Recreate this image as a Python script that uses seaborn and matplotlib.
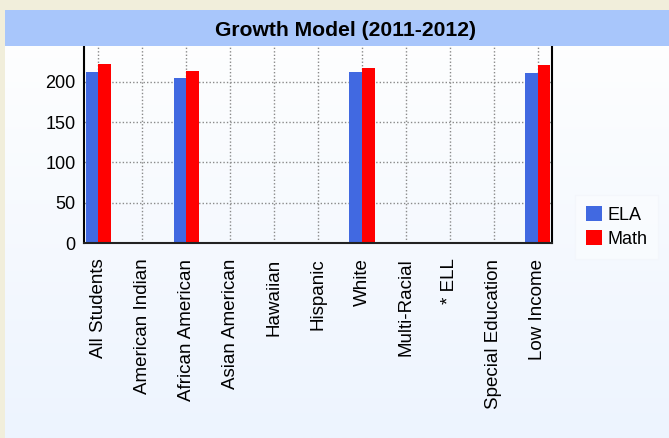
import numpy as np
import pandas as pd
import matplotlib
matplotlib.use("Agg")
import matplotlib.pyplot as plt
import seaborn as sns
from matplotlib.patches import Rectangle

groups = ["All Students", "American Indian", "African American", "Asian American",
          "Hawaiian", "Hispanic", "White", "Multi-Racial", "* ELL",
          "Special Education", "Low Income"]
ela = [212, np.nan, 205, np.nan, np.nan, np.nan, 212, np.nan, np.nan, np.nan, 210]
math = [222, np.nan, 213, np.nan, np.nan, np.nan, 217, np.nan, np.nan, np.nan, 220]
subjects = ["ELA", "Math"]
colors = {"ELA": "#4169e1", "Math": "#ff0000"}

df = pd.DataFrame({
    "group": groups * 2,
    "score": ela + math,
    "subject": ["ELA"] * len(groups) + ["Math"] * len(groups),
}).dropna()

sns.set_style("white")
plt.rcParams["font.family"] = ["Liberation Sans", "DejaVu Sans"]
plt.rcParams["text.color"] = "black"
plt.rcParams["xtick.color"] = "black"
plt.rcParams["ytick.color"] = "black"

fig = plt.figure(figsize=(6.69, 4.38), dpi=100)
fig.patch.set_facecolor("#f1eedb")

# panel with soft vertical gradient
bg = fig.add_axes([5 / 669, 0, 1 - 5 / 669, 1 - 10 / 438])
grad = np.linspace(0, 1, 256).reshape(-1, 1)
cmap = matplotlib.colors.LinearSegmentedColormap.from_list("bg", ["#ffffff", "#edf4fe"])
bg.imshow(grad, aspect="auto", cmap=cmap, extent=[0, 1, 0, 1], origin="upper")
bg.set_axis_off()

# title banner
fig.patches.append(Rectangle((5 / 669, 1 - 46 / 438), 1, 36 / 438,
                             transform=fig.transFigure, facecolor="#a8c6fb",
                             edgecolor="none", zorder=1))
fig.text(345 / 669, 1 - 30 / 438, "Growth Model (2011-2012)", ha="center", va="center",
         fontsize=15.2, fontweight="bold", color="black", zorder=3)

ax = fig.add_axes([84 / 669, 1 - 243.3 / 438, 468 / 669, 197.3 / 438])
ax.set_facecolor("none")
sns.barplot(data=df, x="group", y="score", hue="subject", order=groups,
            hue_order=subjects, palette=colors, saturation=1, width=0.57,
            linewidth=0, ax=ax)

ax.set_xlim(-0.32, 10.32)
ax.set_ylim(0, 244)
ax.set_yticks([0, 50, 100, 150, 200])
ax.set_xlabel("")
ax.set_ylabel("")
ax.grid(True, linestyle=(0, (1, 1.5)), color="#8a8a8a", linewidth=1)
ax.set_axisbelow(True)
ax.tick_params(axis="x", rotation=90, length=0, pad=11, labelsize=13.5)
ax.tick_params(axis="y", length=3, width=1, color="#777777", pad=3, labelsize=13)

ax.spines["top"].set_visible(False)
for side in ["left", "right"]:
    ax.spines[side].set_color("black")
    ax.spines[side].set_linewidth(1.5)
ax.spines["bottom"].set_color("#222222")
ax.spines["bottom"].set_linewidth(1.5)
ax.spines["bottom"].set_linestyle((0, (1, 1)))

leg = ax.legend(loc="center left", bbox_to_anchor=(1.03, 0.083), frameon=True,
                fontsize=13, handlelength=0.9, handleheight=0.9, handletextpad=0.3,
                borderpad=0.6, labelspacing=0.35, fancybox=False)
leg.get_frame().set_facecolor("#fafcff")
leg.get_frame().set_edgecolor("#f3f6fb")

fig.savefig("out.png", dpi=100)
